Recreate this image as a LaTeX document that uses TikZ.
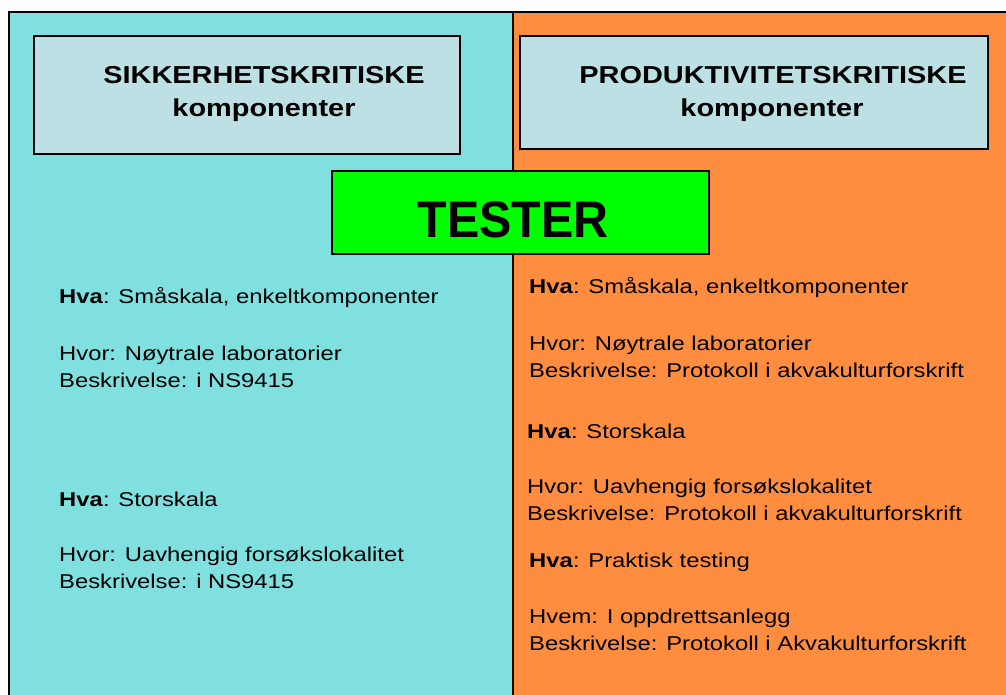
\documentclass[tikz,border=0pt]{standalone}
\usepackage{fontspec}
\setmainfont{Liberation Sans}
\newfontfamily\bodyf[FakeStretch=1.19]{Liberation Sans}
\newfontfamily\headf[FakeStretch=1.18]{Liberation Sans}
\newfontfamily\testf[FakeStretch=0.94]{Liberation Sans}
\definecolor{cyanbg}{RGB}{128,224,224}
\definecolor{orangebg}{RGB}{255,141,64}
\definecolor{hboxfill}{RGB}{188,224,228}
\definecolor{testgreen}{RGB}{0,255,0}
\tikzset{
  hbox/.style={draw=black, line width=1.6pt, fill=hboxfill, anchor=north west, inner sep=0pt},
  htext/.style={anchor=base, inner sep=0pt, font=\headf\bfseries\fontsize{24.5}{30}\selectfont},
  body/.style={anchor=base west, inner sep=0pt, font=\bodyf\fontsize{20}{24}\selectfont},
  testbox/.style={draw=black, line width=1.8pt, fill=testgreen, anchor=north west, inner sep=0pt},
}
\begin{document}
\begin{tikzpicture}[x=1pt,y=-1pt]
\useasboundingbox (0,0) rectangle (1006,695);
% panels
\fill[cyanbg] (9,12) rectangle (513,695);
\fill[orangebg] (513,12) rectangle (1006,695);
\draw[line width=2pt] (9,695) -- (9,12) -- (1006,12);
\draw[line width=2pt] (513,12) -- (513,695);
% header boxes
\node[hbox, minimum width=426pt, minimum height=118pt] (lh) at (33,35) {};
\node[hbox, minimum width=468pt, minimum height=113pt] (rh) at (519,35) {};
\node[htext] (lh1) at (264,84) {SIKKERHETSKRITISKE};
\node[htext] (lh2) at (264,117) {komponenter};
\node[htext] (rh1) at (773,84) {PRODUKTIVITETSKRITISKE};
\node[htext] (rh2) at (772,117) {komponenter};
% tester
\node[testbox, minimum width=377pt, minimum height=83pt] (tb) at (331,170) {};
\node[anchor=base, inner sep=0pt, font=\testf\bfseries\fontsize{51.5}{60}\selectfont] (tt) at (513,237) {TESTER};
% left column
\node[body] (l1) at (59,303) {\textbf{Hva}: Småskala, enkeltkomponenter};
\node[body] (l2) at (59,360) {Hvor: Nøytrale laboratorier};
\node[body] (l3) at (59,387) {Beskrivelse: i NS9415};
\node[body] (l4) at (59,506) {\textbf{Hva}: Storskala};
\node[body] (l5) at (59,561) {Hvor: Uavhengig forsøkslokalitet};
\node[body] (l6) at (59,588) {Beskrivelse: i NS9415};
% right column
\node[body] (r1) at (529,293) {\textbf{Hva}: Småskala, enkeltkomponenter};
\node[body] (r2) at (529,350) {Hvor: Nøytrale laboratorier};
\node[body] (r3) at (529,377) {Beskrivelse: Protokoll i akvakulturforskrift};
\node[body] (r4) at (527,438) {\textbf{Hva}: Storskala};
\node[body] (r5) at (527,493) {Hvor: Uavhengig forsøkslokalitet};
\node[body] (r6) at (527,520) {Beskrivelse: Protokoll i akvakulturforskrift};
\node[body] (r7) at (529,567) {\textbf{Hva}: Praktisk testing};
\node[body] (r8) at (529,623) {Hvem: I oppdrettsanlegg};
\node[body] (r9) at (529,650) {Beskrivelse: Protokoll i Akvakulturforskrift};
\end{tikzpicture}
\end{document}
